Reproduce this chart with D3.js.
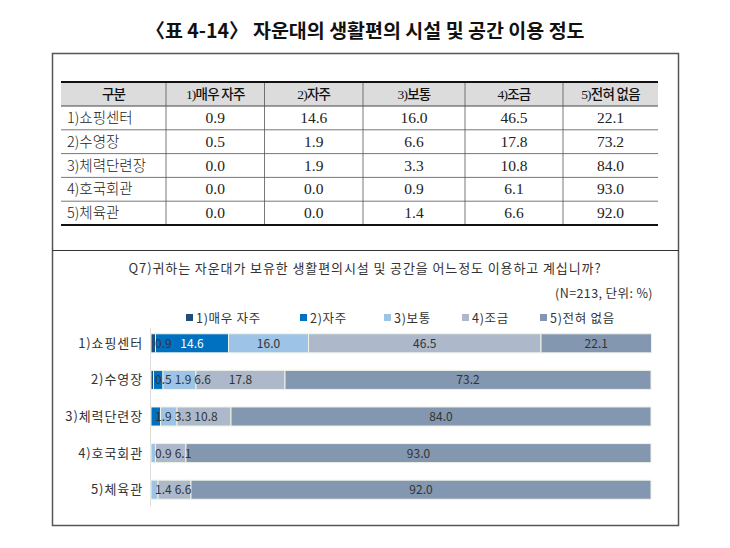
<!DOCTYPE html>
<html>
<head>
<meta charset="utf-8">
<script src="https://cdn.jsdelivr.net/npm/d3@7"></script>
<style>
  body { margin: 0; background: #fff; }
  svg { display: block; }
</style>
</head>
<body>
<div id="chart"></div>
<script>
const categories = ["1)쇼핑센터", "2)수영장", "3)체력단련장", "4)호국회관", "5)체육관"];
const seriesNames = ["1)매우 자주", "2)자주", "3)보통", "4)조금", "5)전혀 없음"];
const veryOften = [0.9, 0.5, 0.0, 0.0, 0.0];
const often = [14.6, 1.9, 1.9, 0.0, 0.0];
const sometimes = [16.0, 6.6, 3.3, 0.9, 1.4];
const rarely = [46.5, 17.8, 10.8, 6.1, 6.6];
const never = [22.1, 73.2, 84.0, 93.0, 92.0];

const title = "〈표 4-14〉 자운대의 생활편의 시설 및 공간 이용 정도";
const question = "Q7)귀하는 자운대가 보유한 생활편의시설 및 공간을 어느정도 이용하고 계십니까?";
const note = "(N=213, 단위: %)";

const series = [veryOften, often, sometimes, rarely, never];
const colors = ["#1f4e79", "#0070c0", "#9dc3e6", "#adb9ca", "#8497b0"];
const textColors = ["#fff", "#fff", "#333", "#333", "#333"];

const width = 730, height = 548;
const sans = "'Noto Sans CJK KR', 'Noto Sans', sans-serif";
const serif = "'Liberation Serif', 'Noto Sans CJK KR', serif";

const svg = d3.select("#chart").append("svg")
    .attr("width", width)
    .attr("height", height);

// title
svg.append("text")
    .attr("x", 365)
    .attr("y", 38)
    .attr("text-anchor", "middle")
    .style("font-family", sans)
    .style("font-weight", "bold")
    .style("font-size", "19.5px")
    .style("fill", "#111")
    .text(title);

// outer box and separator
svg.append("rect")
    .attr("x", 52.5).attr("y", 53.5)
    .attr("width", 626).attr("height", 472)
    .attr("fill", "none")
    .attr("stroke", "#555")
    .attr("stroke-width", 1.5);

svg.append("line")
    .attr("x1", 52.5).attr("x2", 678.5)
    .attr("y1", 250.5).attr("y2", 250.5)
    .attr("stroke", "#333")
    .attr("stroke-width", 1.2);

// ---- table ----
const colEdges = [61, 166, 264.5, 363, 465, 563, 658];
const tableTop = 82, headerH = 24, rowH = 23.8;
const gTable = svg.append("g");

gTable.append("rect")
    .attr("x", colEdges[0]).attr("y", tableTop)
    .attr("width", colEdges[6] - colEdges[0]).attr("height", headerH)
    .attr("fill", "#dcdcdc");

const tableBottom = tableTop + headerH + rowH * categories.length;

// row lines
d3.range(1, categories.length).forEach(i => {
    gTable.append("line")
        .attr("x1", colEdges[0]).attr("x2", colEdges[6])
        .attr("y1", tableTop + headerH + rowH * i).attr("y2", tableTop + headerH + rowH * i)
        .attr("stroke", "#555").attr("stroke-width", 0.8);
});
gTable.append("line")
    .attr("x1", colEdges[0]).attr("x2", colEdges[6])
    .attr("y1", tableTop + headerH).attr("y2", tableTop + headerH)
    .attr("stroke", "#444").attr("stroke-width", 1);

// column lines
colEdges.slice(1, 6).forEach(x => {
    gTable.append("line")
        .attr("x1", x).attr("x2", x)
        .attr("y1", tableTop).attr("y2", tableBottom)
        .attr("stroke", "#555").attr("stroke-width", 0.8);
});

gTable.append("line")
    .attr("x1", colEdges[0]).attr("x2", colEdges[6])
    .attr("y1", tableTop).attr("y2", tableTop)
    .attr("stroke", "#111").attr("stroke-width", 2.2);
gTable.append("line")
    .attr("x1", colEdges[0]).attr("x2", colEdges[6])
    .attr("y1", tableBottom).attr("y2", tableBottom)
    .attr("stroke", "#111").attr("stroke-width", 2.2);

const header = ["구분"].concat(seriesNames);
gTable.selectAll("text.head")
    .data(header)
    .enter().append("text")
    .attr("class", "head")
    .attr("x", (d, i) => (colEdges[i] + colEdges[i + 1]) / 2)
    .attr("y", tableTop + headerH / 2 + 5)
    .attr("text-anchor", "middle")
    .style("font-family", serif)
    .style("font-size", "13.5px")
    .style("font-weight", "500")
    .style("letter-spacing", "-0.8px")
    .style("fill", "#111")
    .text(d => d);

categories.forEach((cat, r) => {
    const y = tableTop + headerH + rowH * r + rowH / 2 + 5;
    gTable.append("text")
        .attr("x", colEdges[0] + 6)
        .attr("y", y)
        .style("font-family", sans)
        .style("font-weight", "300")
        .style("font-size", "14.5px")
        .style("fill", "#222")
        .text(cat);
    series.forEach((s, c) => {
        gTable.append("text")
            .attr("x", (colEdges[c + 1] + colEdges[c + 2]) / 2)
            .attr("y", y)
            .attr("text-anchor", "middle")
            .style("font-family", serif)
            .style("font-size", "15.5px")
            .style("fill", "#222")
            .text(s[r].toFixed(1));
    });
});

// ---- chart ----
svg.append("text")
    .attr("x", 365).attr("y", 273)
    .attr("text-anchor", "middle")
    .style("font-family", sans)
    .style("font-size", "13px")
    .style("letter-spacing", "0.9px")
    .style("fill", "#333")
    .text(question);

svg.append("text")
    .attr("x", 653).attr("y", 298)
    .attr("text-anchor", "end")
    .style("font-family", sans)
    .style("font-size", "12.5px")
    .style("letter-spacing", "0.4px")
    .style("fill", "#333")
    .text(note);

// legend
const legendX = [186, 300, 384, 462, 540];
const legend = svg.selectAll("g.legend")
    .data(seriesNames)
    .enter().append("g")
    .attr("class", "legend")
    .attr("transform", (d, i) => `translate(${legendX[i]}, 323)`);
legend.append("rect")
    .attr("x", 0).attr("y", -9)
    .attr("width", 7).attr("height", 7)
    .attr("fill", (d, i) => colors[i]);
legend.append("text")
    .attr("x", 10).attr("y", 0)
    .style("font-family", sans)
    .style("font-size", "12.5px")
    .style("letter-spacing", "0.7px")
    .style("fill", "#333")
    .text(d => d);

const x = d3.scaleLinear().domain([0, 100]).range([151, 651]);
const y = d3.scaleBand().domain(categories).range([325, 508]).paddingInner(0.48).paddingOuter(0.24);

// faint axis line
svg.append("line")
    .attr("x1", 150.5).attr("x2", 150.5)
    .attr("y1", 328).attr("y2", 506)
    .attr("stroke", "#ddd");

const stackData = categories.map((c, r) => {
    const row = { cat: c };
    seriesNames.forEach((n, i) => { row[n] = series[i][r]; });
    return row;
});
const stacked = d3.stack().keys(seriesNames)(stackData);

const layers = svg.selectAll("g.layer")
    .data(stacked)
    .enter().append("g")
    .attr("class", "layer")
    .attr("fill", (d, i) => colors[i]);

layers.selectAll("rect")
    .data(d => d.filter(p => p[1] - p[0] > 0))
    .enter().append("rect")
    .attr("x", d => x(d[0]))
    .attr("y", d => y(d.data.cat))
    .attr("width", d => x(d[1]) - x(d[0]))
    .attr("height", y.bandwidth())
    .attr("stroke", "#eef3e6")
    .attr("stroke-width", 1);

// y labels
svg.selectAll("text.cat")
    .data(categories)
    .enter().append("text")
    .attr("class", "cat")
    .attr("x", 143)
    .attr("y", d => y(d) + y.bandwidth() / 2 + 4.5)
    .attr("text-anchor", "end")
    .style("font-family", sans)
    .style("font-size", "13px")
    .style("letter-spacing", "0.9px")
    .style("fill", "#333")
    .text(d => d);

// value labels, pushed apart when segments are too narrow
categories.forEach(cat => {
    const items = [];
    stacked.forEach((layer, i) => {
        const p = layer.find(q => q.data.cat === cat);
        if (p[1] - p[0] <= 0) return;
        const t = svg.append("text")
            .attr("y", y(cat) + y.bandwidth() / 2 + 4.5)
            .attr("text-anchor", "middle")
            .style("font-family", sans)
            .style("font-size", "12px")
            .style("fill", textColors[i])
            .text((p[1] - p[0]).toFixed(1));
        items.push({ t, cx: (x(p[0]) + x(p[1])) / 2, w: t.node().getComputedTextLength(), i, p });
    });
    let right = x(0) + 1;
    items.forEach(it => {
        let left = it.cx - it.w / 2;
        if (left < right + 3) left = right + 3;
        it.t.attr("x", left + it.w / 2);
        if (x(it.p[1]) - x(it.p[0]) < it.w + 2) it.t.style("fill", "#333");
        right = left + it.w;
    });
});
</script>
</body>
</html>
